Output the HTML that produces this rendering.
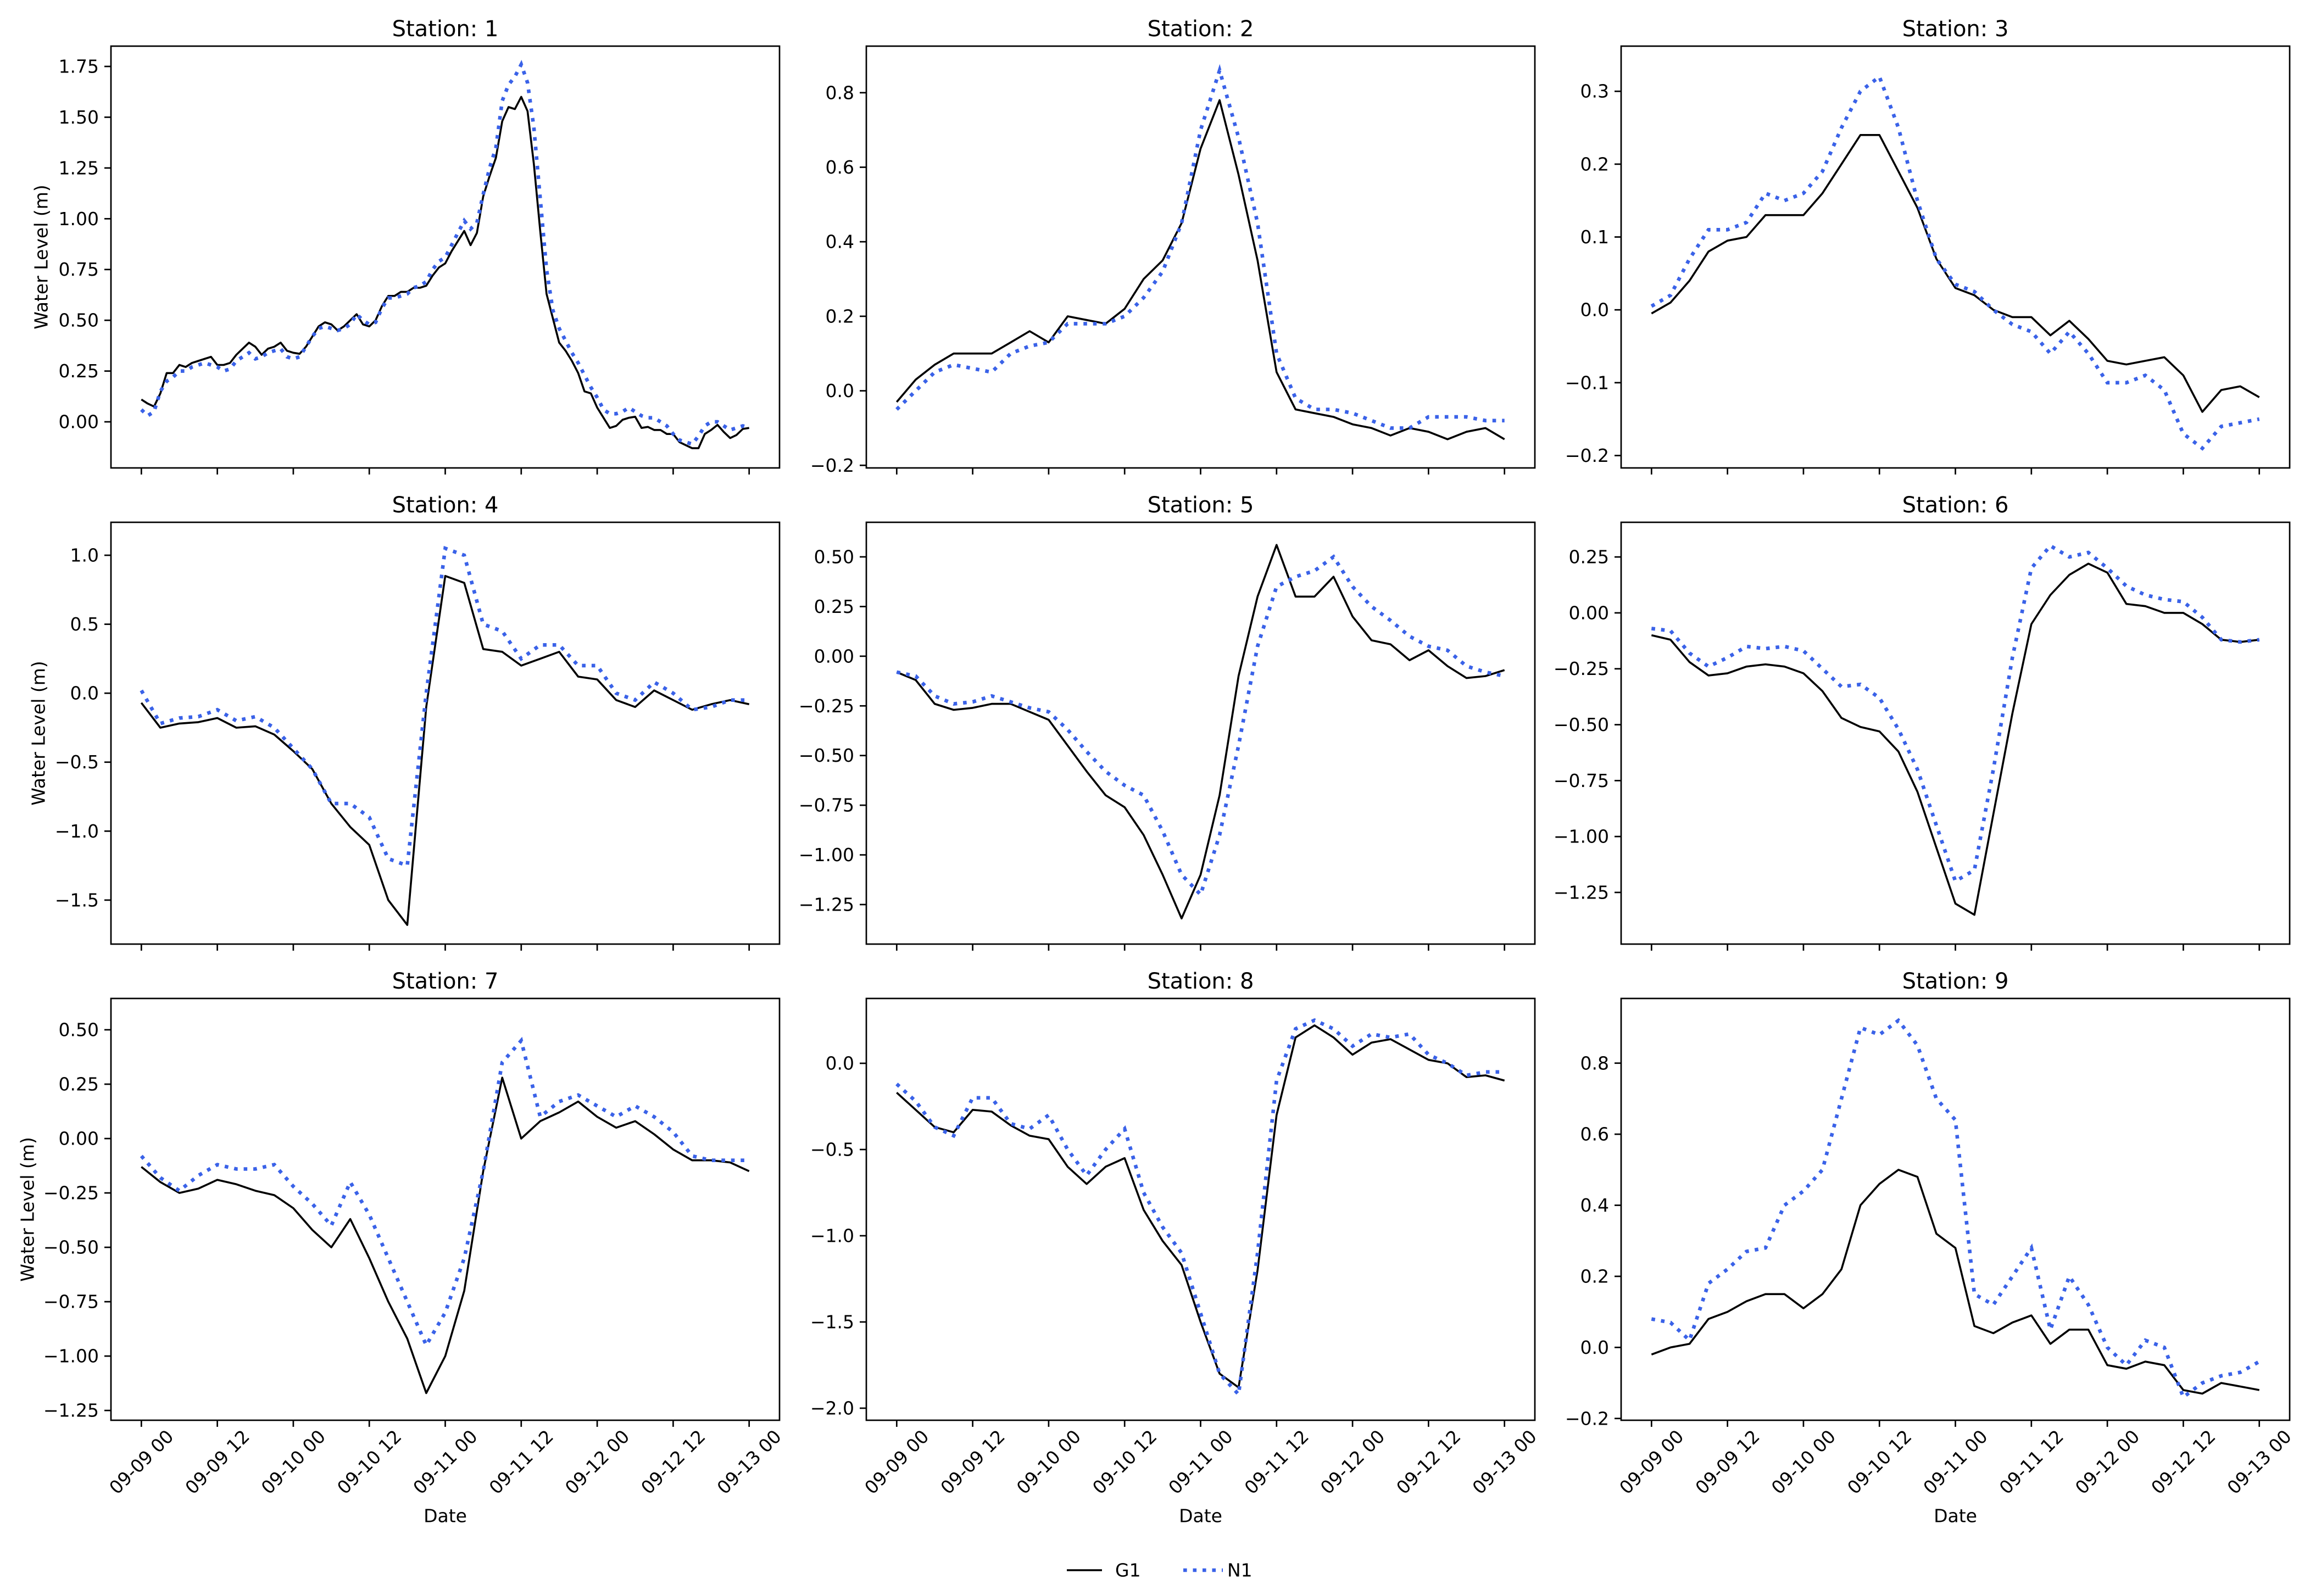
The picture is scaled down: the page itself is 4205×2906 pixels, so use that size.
<!DOCTYPE html>
<html>
<head>
<meta charset="utf-8">
<style>
html,body{margin:0;padding:0;background:#fff;}
svg{display:block;font-family:"DejaVu Sans","Liberation Sans",sans-serif;}
</style>
</head>
<body>
<svg id="chart" width="4205" height="2906" viewBox="0 0 4205 2906" xmlns="http://www.w3.org/2000/svg">
<rect width="4205" height="2906" fill="#fff"/>
</svg>
<script>
// ---------- data ----------
const xTickLabels = ["09-09 00","09-09 12","09-10 00","09-10 12","09-11 00","09-11 12","09-12 00","09-12 12","09-13 00"];
const xTickHours = [0,12,24,36,48,60,72,84,96];
const stationNames = ["1","2","3","4","5","6","7","8","9"];

const s1_g1 = [0.11,0.09,0.075,0.14,0.24,0.24,0.28,0.27,0.29,0.30,0.31,0.32,0.28,0.28,0.29,0.33,0.36,0.39,0.37,0.33,0.36,0.37,0.39,0.35,0.34,0.335,0.37,0.42,0.47,0.49,0.48,0.45,0.47,0.50,0.53,0.48,0.47,0.50,0.57,0.62,0.62,0.64,0.64,0.66,0.66,0.67,0.72,0.76,0.78,0.84,0.89,0.94,0.87,0.93,1.11,1.21,1.30,1.48,1.55,1.54,1.60,1.53,1.27,0.94,0.63,0.51,0.39,0.35,0.30,0.24,0.15,0.14,0.07,0.02,-0.03,-0.02,0.01,0.02,0.025,-0.03,-0.025,-0.04,-0.04,-0.06,-0.06,-0.10,-0.115,-0.13,-0.13,-0.06,-0.04,-0.015,-0.05,-0.08,-0.065,-0.035,-0.03];
const s1_n1 = [0.06,0.03,0.05,0.15,0.20,0.22,0.25,0.25,0.27,0.28,0.29,0.28,0.27,0.25,0.26,0.30,0.32,0.34,0.31,0.32,0.34,0.35,0.36,0.32,0.31,0.32,0.37,0.42,0.46,0.47,0.46,0.45,0.46,0.48,0.53,0.50,0.48,0.49,0.56,0.61,0.61,0.62,0.63,0.66,0.67,0.69,0.75,0.79,0.81,0.87,0.93,0.99,0.95,0.98,1.12,1.25,1.35,1.58,1.66,1.70,1.76,1.67,1.45,1.10,0.75,0.55,0.46,0.40,0.34,0.29,0.23,0.17,0.12,0.06,0.04,0.04,0.05,0.07,0.05,0.03,0.02,0.02,0.00,-0.02,-0.06,-0.09,-0.10,-0.11,-0.07,-0.02,0.00,0.00,-0.02,-0.04,-0.03,-0.02,-0.03];
const s2_g1 = [-0.03,0.03,0.07,0.10,0.10,0.10,0.13,0.16,0.13,0.20,0.19,0.18,0.22,0.30,0.35,0.45,0.65,0.78,0.58,0.35,0.05,-0.05,-0.06,-0.07,-0.09,-0.10,-0.12,-0.10,-0.11,-0.13,-0.11,-0.10,-0.13];
const s2_n1 = [-0.05,0.00,0.05,0.07,0.06,0.05,0.10,0.12,0.13,0.18,0.18,0.18,0.20,0.25,0.32,0.45,0.70,0.86,0.68,0.45,0.10,-0.02,-0.05,-0.05,-0.06,-0.08,-0.10,-0.10,-0.07,-0.07,-0.07,-0.08,-0.08];
const s3_g1 = [-0.005,0.01,0.04,0.08,0.095,0.10,0.13,0.13,0.13,0.16,0.20,0.24,0.24,0.19,0.14,0.07,0.03,0.02,0.00,-0.01,-0.01,-0.035,-0.015,-0.04,-0.07,-0.075,-0.07,-0.065,-0.09,-0.14,-0.11,-0.105,-0.12];
const s3_n1 = [0.005,0.02,0.07,0.11,0.11,0.12,0.16,0.15,0.16,0.19,0.25,0.30,0.32,0.25,0.15,0.07,0.035,0.025,0.00,-0.02,-0.03,-0.06,-0.03,-0.06,-0.10,-0.10,-0.09,-0.11,-0.17,-0.19,-0.16,-0.155,-0.15];
const s4_g1 = [-0.07,-0.25,-0.22,-0.21,-0.18,-0.25,-0.24,-0.30,-0.42,-0.55,-0.80,-0.97,-1.10,-1.50,-1.68,-0.10,0.85,0.80,0.32,0.30,0.20,0.25,0.30,0.12,0.10,-0.05,-0.10,0.02,-0.05,-0.12,-0.08,-0.05,-0.08];
const s4_n1 = [0.02,-0.22,-0.18,-0.17,-0.12,-0.20,-0.17,-0.25,-0.40,-0.55,-0.80,-0.80,-0.90,-1.20,-1.25,0.00,1.05,1.00,0.50,0.45,0.25,0.35,0.35,0.20,0.20,0.00,-0.05,0.08,0.00,-0.12,-0.10,-0.05,-0.05];
const s5_g1 = [-0.08,-0.12,-0.24,-0.27,-0.26,-0.24,-0.24,-0.28,-0.32,-0.45,-0.58,-0.70,-0.76,-0.90,-1.10,-1.32,-1.10,-0.70,-0.10,0.30,0.56,0.30,0.30,0.40,0.20,0.08,0.06,-0.02,0.03,-0.05,-0.11,-0.10,-0.07];
const s5_n1 = [-0.08,-0.10,-0.20,-0.24,-0.23,-0.20,-0.23,-0.26,-0.28,-0.37,-0.48,-0.58,-0.65,-0.70,-0.88,-1.10,-1.20,-0.90,-0.45,0.05,0.35,0.40,0.43,0.50,0.35,0.25,0.18,0.10,0.05,0.03,-0.05,-0.08,-0.10];
const s6_g1 = [-0.10,-0.12,-0.22,-0.28,-0.27,-0.24,-0.23,-0.24,-0.27,-0.35,-0.47,-0.51,-0.53,-0.62,-0.80,-1.05,-1.30,-1.35,-0.90,-0.45,-0.05,0.08,0.17,0.22,0.18,0.04,0.03,0.00,0.00,-0.05,-0.12,-0.13,-0.12];
const s6_n1 = [-0.07,-0.08,-0.18,-0.24,-0.20,-0.15,-0.16,-0.15,-0.17,-0.25,-0.33,-0.32,-0.38,-0.52,-0.70,-0.95,-1.20,-1.15,-0.70,-0.20,0.20,0.30,0.25,0.27,0.20,0.12,0.08,0.06,0.05,-0.02,-0.12,-0.13,-0.12];
const s7_g1 = [-0.13,-0.20,-0.25,-0.23,-0.19,-0.21,-0.24,-0.26,-0.32,-0.42,-0.50,-0.37,-0.55,-0.75,-0.92,-1.17,-1.00,-0.70,-0.15,0.28,0.00,0.08,0.12,0.17,0.10,0.05,0.08,0.02,-0.05,-0.10,-0.10,-0.11,-0.15];
const s7_n1 = [-0.08,-0.18,-0.24,-0.17,-0.12,-0.14,-0.14,-0.12,-0.22,-0.30,-0.40,-0.20,-0.35,-0.55,-0.75,-0.95,-0.80,-0.55,-0.15,0.35,0.45,0.10,0.17,0.20,0.15,0.10,0.15,0.10,0.03,-0.08,-0.10,-0.10,-0.10];
const s8_g1 = [-0.17,-0.27,-0.37,-0.40,-0.27,-0.28,-0.36,-0.42,-0.44,-0.60,-0.70,-0.60,-0.55,-0.85,-1.03,-1.17,-1.50,-1.80,-1.88,-1.20,-0.30,0.15,0.22,0.15,0.05,0.12,0.14,0.08,0.02,0.00,-0.08,-0.07,-0.10];
const s8_n1 = [-0.12,-0.22,-0.37,-0.42,-0.20,-0.20,-0.35,-0.38,-0.30,-0.50,-0.65,-0.50,-0.38,-0.75,-0.95,-1.10,-1.45,-1.80,-1.92,-1.10,-0.10,0.20,0.25,0.20,0.10,0.17,0.15,0.17,0.05,0.00,-0.07,-0.05,-0.05];
const s9_g1 = [-0.02,0.00,0.01,0.08,0.10,0.13,0.15,0.15,0.11,0.15,0.22,0.40,0.46,0.50,0.48,0.32,0.28,0.06,0.04,0.07,0.09,0.01,0.05,0.05,-0.05,-0.06,-0.04,-0.05,-0.12,-0.13,-0.10,-0.11,-0.12];
const s9_n1 = [0.08,0.07,0.02,0.18,0.22,0.27,0.28,0.40,0.44,0.50,0.70,0.90,0.88,0.92,0.85,0.70,0.64,0.15,0.12,0.20,0.28,0.05,0.20,0.12,0.00,-0.05,0.02,0.00,-0.14,-0.10,-0.08,-0.07,-0.04];

const yLimits = [[-0.227,1.85],[-0.207,0.925],[-0.217,0.362],[-1.819,1.239],[-1.449,0.674],[-1.481,0.405],[-1.295,0.644],[-2.07,0.376],[-0.205,0.982]];
const yTicks1 = [0,0.25,0.5,0.75,1.0,1.25,1.5,1.75];
const yTicks2 = [-0.2,0,0.2,0.4,0.6,0.8];
const yTicks3 = [-0.2,-0.1,0,0.1,0.2,0.3];
const yTicks4 = [-1.5,-1.0,-0.5,0,0.5,1.0];
const yTicks5 = [-1.25,-1.0,-0.75,-0.5,-0.25,0,0.25,0.5];
const yTicks6 = [-1.25,-1.0,-0.75,-0.5,-0.25,0,0.25];
const yTicks7 = [-1.25,-1.0,-0.75,-0.5,-0.25,0,0.25,0.5];
const yTicks8 = [-2.0,-1.5,-1.0,-0.5,0];
const yTicks9 = [-0.2,0,0.2,0.4,0.6,0.8];
const yDecimals = [2,1,1,1,2,2,2,1,1];

// ---------- layout ----------
const G1 = [s1_g1,s2_g1,s3_g1,s4_g1,s5_g1,s6_g1,s7_g1,s8_g1,s9_g1];
const N1 = [s1_n1,s2_n1,s3_n1,s4_n1,s5_n1,s6_n1,s7_n1,s8_n1,s9_n1];
const YT = [yTicks1,yTicks2,yTicks3,yTicks4,yTicks5,yTicks6,yTicks7,yTicks8,yTicks9];
const colX = [202,1577,2951], rowY = [84,951,1818], W = 1217, H = 768;
const yLabelX = [75, 70, 50];
const NS = "http://www.w3.org/2000/svg";
const svg = document.getElementById('chart');
function mk(tag, attrs, parent){
  const e = document.createElementNS(NS, tag);
  for (const k in attrs) e.setAttribute(k, attrs[k]);
  (parent||svg).appendChild(e);
  return e;
}
function fmt(v, d){
  const s = Math.abs(v).toFixed(d);
  return (v < -1e-9 ? "\u2212" : "") + s;
}

for (let i = 0; i < 9; i++){
  const r = Math.floor(i/3), c = i%3;
  const L = colX[c], T = rowY[r];
  const [ymin, ymax] = yLimits[i];
  const xs = t => L + (t + 4.8) / 105.6 * W;
  const ys = v => T + H - (v - ymin) / (ymax - ymin) * H;

  const g = mk('g', {});
  
  

  const title = mk('text', {x: L + W/2, y: T - 18, 'font-size': 40, 'text-anchor': 'middle', fill: '#000'}, g);
  title.textContent = 'Station: ' + stationNames[i];
  
  

  [[G1[i], 'g1'], [N1[i], 'n1']].forEach(([arr, key]) => {
    const n = arr.length;
    const pts = arr.map((v, k) => xs(k * 96 / (n - 1)).toFixed(1) + ',' + ys(v).toFixed(1)).join(' ');
    const attrs = key === 'g1'
      ? {points: pts, fill: 'none', stroke: '#000', 'stroke-width': 3.6, 'stroke-linejoin': 'round'}
      : {points: pts, fill: 'none', stroke: '#3a62e8', 'stroke-width': 6.6, 'stroke-dasharray': '6.6 10.9'};
    const pl = mk('polyline', attrs, g);
    
    
  });

  const fr = mk('rect', {x: L, y: T, width: W, height: H, fill: 'none', stroke: '#000', 'stroke-width': 2.7}, g);
  
  

  YT[i].forEach(v => {
    const y = ys(v);
    const tl = mk('line', {x1: L - 12, x2: L, y1: y, y2: y, stroke: '#000', 'stroke-width': 2.7}, g);
    
    
    const tx = mk('text', {x: L - 22, y: y, 'font-size': 33, 'text-anchor': 'end', 'dominant-baseline': 'central', fill: '#000'}, g);
    tx.textContent = fmt(v, yDecimals[i]);
    
    
  });

  xTickHours.forEach((h, k) => {
    const x = xs(h);
    const tl = mk('line', {x1: x, x2: x, y1: T + H, y2: T + H + 12, stroke: '#000', 'stroke-width': 2.7}, g);
    
    
    if (r === 2){
      const cy = T + H + 76;
      const tx = mk('text', {x: x, y: cy, 'font-size': 33, 'text-anchor': 'middle', 'dominant-baseline': 'central', transform: 'rotate(-45 ' + x + ' ' + cy + ')', fill: '#000'}, g);
      tx.textContent = xTickLabels[k];
      
      
    }
  });

  if (r === 2){
    const xl = mk('text', {x: L + W/2, y: 2760, 'font-size': 33, 'text-anchor': 'middle', 'dominant-baseline': 'central', fill: '#000'}, g);
    xl.textContent = 'Date';
    
    
  }
  if (c === 0){
    const cy = T + H/2, lx = yLabelX[r];
    const yl = mk('text', {x: lx, y: cy, 'font-size': 33, 'text-anchor': 'middle', 'dominant-baseline': 'central', transform: 'rotate(-90 ' + lx + ' ' + cy + ')', fill: '#000'}, g);
    yl.textContent = 'Water Level (m)';
    
    
  }
}

const lg = mk('g', {});


const l1 = mk('line', {x1: 1942, x2: 2006, y1: 2859, y2: 2859, stroke: '#000', 'stroke-width': 3.6}, lg);


const t1 = mk('text', {x: 2030, y: 2859, 'font-size': 33, 'dominant-baseline': 'central', fill: '#000'}, lg);
t1.textContent = 'G1';


const l2 = mk('line', {x1: 2154, x2: 2226, y1: 2859, y2: 2859, stroke: '#3a62e8', 'stroke-width': 6.6, 'stroke-dasharray': '6.6 10.9'}, lg);


const t2 = mk('text', {x: 2234, y: 2859, 'font-size': 33, 'dominant-baseline': 'central', fill: '#000'}, lg);
t2.textContent = 'N1';


</script>
</body>
</html>
